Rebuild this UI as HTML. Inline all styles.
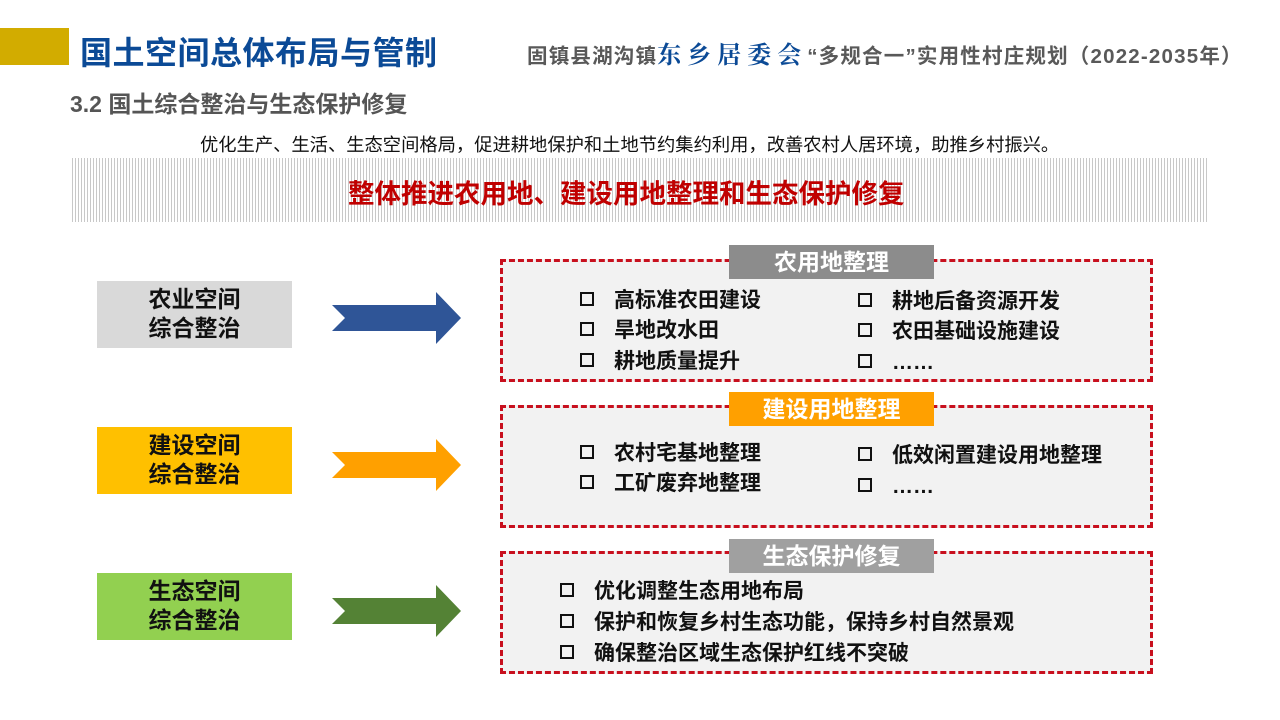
<!DOCTYPE html>
<html><head><meta charset="utf-8"><style>
body{margin:0;width:1280px;height:720px;background:#fff;position:relative;overflow:hidden;font-family:"Liberation Sans","Noto Sans CJK SC",sans-serif}
.a{position:absolute;white-space:nowrap}
.b{font-weight:bold}
.dash{position:absolute;border:3px dashed #c8101e;background:#f2f2f2;box-sizing:border-box}
.tab{position:absolute;width:205px;height:34px;color:#fff;font-weight:bold;font-size:23px;text-align:center;line-height:34px}
.lb{position:absolute;left:97px;width:195px;height:67px;font-weight:bold;font-size:23px;text-align:center;line-height:29px;padding-top:4px;box-sizing:border-box}
.it{position:absolute;font-weight:bold;font-size:21px;color:#111;white-space:nowrap;line-height:24px}
.it:before{content:"";display:inline-block;width:10px;height:10px;border:2.5px solid #111;margin-right:20px;vertical-align:1px}
</style></head><body>
<div class="a" style="left:0;top:28px;width:69px;height:37px;background:#d2ac00"></div>
<div class="a b" style="left:80px;top:28px;font-size:32px;color:#0b4a96;letter-spacing:0.5px">国土空间总体布局与管制</div>
<div class="a b" style="left:527px;top:35px;font-size:20.5px;color:#595959;letter-spacing:1.2px">固镇县湖沟镇<span style="color:#0b4a96;font-family:'Noto Serif CJK SC',serif;font-size:24px;letter-spacing:6px">东乡居委会</span>“多规合一”实用性村庄规划（2022-2035年）</div>
<div class="a b" style="left:70px;top:85px;font-size:23px;color:#555">3.2 国土综合整治与生态保护修复</div>
<div class="a" style="left:200px;top:131px;font-size:18.3px;color:#111">优化生产、生活、生态空间格局，促进耕地保护和土地节约集约利用，改善农村人居环境，助推乡村振兴。</div>
<div class="a" style="left:72px;top:158px;width:1136px;height:64px;background:repeating-linear-gradient(90deg,#c8c8c8 0 1px,#fff 1px 3px)"></div>
<div class="a b" style="left:348px;top:172px;font-size:26.5px;color:#c00000">整体推进农用地、建设用地整理和生态保护修复</div>

<div class="dash" style="left:500px;top:259px;width:653px;height:123px"></div>
<div class="tab" style="left:729px;top:245px;background:#8c8c8c">农用地整理</div>
<div class="it" style="left:580px;top:289px">高标准农田建设</div>
<div class="it" style="left:580px;top:319px">旱地改水田</div>
<div class="it" style="left:580px;top:350px">耕地质量提升</div>
<div class="it" style="left:858px;top:290px">耕地后备资源开发</div>
<div class="it" style="left:858px;top:320px">农田基础设施建设</div>
<div class="it" style="left:858px;top:351px">……</div>

<div class="dash" style="left:500px;top:405px;width:653px;height:123px"></div>
<div class="tab" style="left:729px;top:392px;background:#ffa000">建设用地整理</div>
<div class="it" style="left:580px;top:442px">农村宅基地整理</div>
<div class="it" style="left:580px;top:472px">工矿废弃地整理</div>
<div class="it" style="left:858px;top:444px">低效闲置建设用地整理</div>
<div class="it" style="left:858px;top:475px">……</div>

<div class="dash" style="left:500px;top:551px;width:653px;height:123px"></div>
<div class="tab" style="left:729px;top:539px;background:#a0a0a0">生态保护修复</div>
<div class="it" style="left:560px;top:580px">优化调整生态用地布局</div>
<div class="it" style="left:560px;top:611px">保护和恢复乡村生态功能，保持乡村自然景观</div>
<div class="it" style="left:560px;top:642px">确保整治区域生态保护红线不突破</div>

<div class="lb" style="top:281px;background:#d9d9d9;color:#111">农业空间<br>综合整治</div>
<div class="lb" style="top:427px;background:#ffc000;color:#111">建设空间<br>综合整治</div>
<div class="lb" style="top:573px;background:#92d050;color:#111">生态空间<br>综合整治</div>

<svg class="a" style="left:0;top:0" width="1280" height="720">
<polygon points="332,305 436,305 436,292 461,318 436,344 436,331 332,331 345,318" fill="#2f5597"/>
<polygon points="332,452 436,452 436,439 461,465 436,491 436,478 332,478 345,465" fill="#ffa000"/>
<polygon points="332,598 436,598 436,585 461,611 436,637 436,624 332,624 345,611" fill="#548235"/>
</svg>
</body></html>
